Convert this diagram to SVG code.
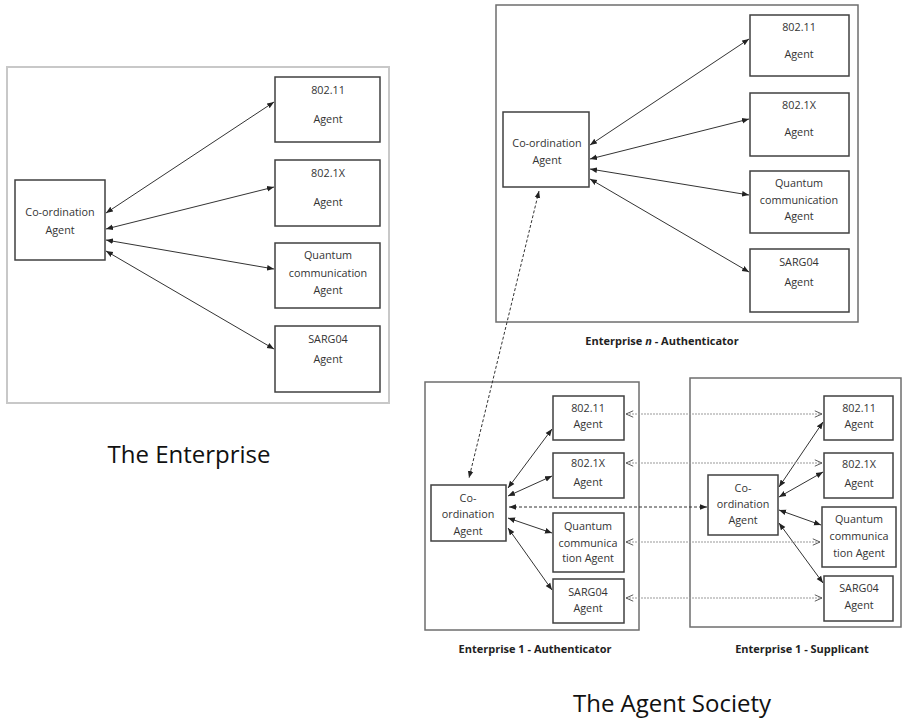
<svg xmlns="http://www.w3.org/2000/svg" width="903" height="721" viewBox="0 0 903 721">
<style>
.frame{fill:none;stroke:#6e6e6e;stroke-width:1.5}
.frame-light{fill:none;stroke:#c8c8c8;stroke-width:2}
.box{fill:#fff;stroke:#404040;stroke-width:1.5}
.lbl{font-family:"Open Sans","Liberation Sans",sans-serif;font-size:10.8px;fill:#333;text-anchor:middle}
.cap{font-family:"Open Sans","Liberation Sans",sans-serif;font-size:11px;font-weight:bold;fill:#222;text-anchor:middle}
.title{font-family:"Open Sans","Liberation Sans",sans-serif;font-size:24px;fill:#111;text-anchor:middle}
.solid{stroke:#333;stroke-width:1;fill:none;marker-start:url(#ah);marker-end:url(#ah)}
.dash{stroke:#333;stroke-width:1;stroke-dasharray:3,2;fill:none;marker-start:url(#ah);marker-end:url(#ah)}
.dot{stroke:#999;stroke-width:1;stroke-dasharray:2,1;fill:none;marker-start:url(#oh);marker-end:url(#oh)}
</style>
<defs>
<marker id="ah" viewBox="0 0 10 10" refX="10" refY="5" markerWidth="7" markerHeight="7" markerUnits="userSpaceOnUse" orient="auto-start-reverse">
<path d="M0,1 L10,5 L0,9 z" fill="#222"/>
</marker>
<marker id="oh" viewBox="0 0 10 10" refX="10" refY="5" markerWidth="8" markerHeight="8" markerUnits="userSpaceOnUse" orient="auto-start-reverse">
<path d="M1,1 L10,5 L1,9" fill="none" stroke="#555" stroke-width="1.2"/>
</marker>
</defs>

<g id="frames">
<rect class="frame-light" x="7" y="67" width="382" height="336"/>
<rect class="frame" x="496" y="5" width="362" height="317"/>
<rect class="frame" x="425" y="382" width="214" height="248"/>
<rect class="frame" x="690" y="378" width="211" height="249"/>
</g>

<g id="left-coord"><rect class="box" x="15" y="180" width="90" height="80"/>
<text class="lbl" x="60" y="216">Co-ordination</text><text class="lbl" x="60" y="234">Agent</text></g>
<g id="left-80211"><rect class="box" x="275" y="77" width="105" height="65"/>
<text class="lbl" x="328" y="94">802.11</text><text class="lbl" x="328" y="123">Agent</text></g>
<g id="left-8021x"><rect class="box" x="275" y="160" width="105" height="66"/>
<text class="lbl" x="328" y="177">802.1X</text><text class="lbl" x="328" y="206">Agent</text></g>
<g id="left-quantum"><rect class="box" x="275" y="243" width="105" height="65"/>
<text class="lbl" x="328" y="259">Quantum</text><text class="lbl" x="328" y="277">communication</text><text class="lbl" x="328" y="294">Agent</text></g>
<g id="left-sarg04"><rect class="box" x="275" y="326" width="105" height="66"/>
<text class="lbl" x="328" y="343">SARG04</text><text class="lbl" x="328" y="363">Agent</text></g>

<g id="n-coord"><rect class="box" x="503" y="112" width="86" height="75"/>
<text class="lbl" x="547" y="147">Co-ordination</text><text class="lbl" x="547" y="164">Agent</text></g>
<g id="n-80211"><rect class="box" x="750" y="15" width="99" height="61"/>
<text class="lbl" x="799" y="31">802.11</text><text class="lbl" x="799" y="58">Agent</text></g>
<g id="n-8021x"><rect class="box" x="750" y="93" width="99" height="63"/>
<text class="lbl" x="799" y="109">802.1X</text><text class="lbl" x="799" y="136">Agent</text></g>
<g id="n-quantum"><rect class="box" x="750" y="171" width="99" height="62"/>
<text class="lbl" x="799" y="187">Quantum</text><text class="lbl" x="799" y="204">communication</text><text class="lbl" x="799" y="220">Agent</text></g>
<g id="n-sarg04"><rect class="box" x="750" y="249" width="99" height="63"/>
<text class="lbl" x="799" y="266">SARG04</text><text class="lbl" x="799" y="286">Agent</text></g>

<g id="a-coord"><rect class="box" x="431" y="485" width="75" height="56"/>
<text class="lbl" x="468" y="502">Co-</text><text class="lbl" x="468" y="518">ordination</text><text class="lbl" x="468" y="535">Agent</text></g>
<g id="a-80211"><rect class="box" x="553" y="396" width="71" height="44"/>
<text class="lbl" x="588" y="412">802.11</text><text class="lbl" x="588" y="428">Agent</text></g>
<g id="a-8021x"><rect class="box" x="553" y="453" width="71" height="45"/>
<text class="lbl" x="588" y="467">802.1X</text><text class="lbl" x="588" y="486">Agent</text></g>
<g id="a-quantum"><rect class="box" x="553" y="513" width="71" height="59"/>
<text class="lbl" x="588" y="530">Quantum</text><text class="lbl" x="588" y="547">communica</text><text class="lbl" x="588" y="562">tion Agent</text></g>
<g id="a-sarg04"><rect class="box" x="553" y="579" width="71" height="44"/>
<text class="lbl" x="588" y="596">SARG04</text><text class="lbl" x="588" y="612">Agent</text></g>

<g id="s-coord"><rect class="box" x="708" y="475" width="70" height="60"/>
<text class="lbl" x="743" y="492">Co-</text><text class="lbl" x="743" y="508">ordination</text><text class="lbl" x="743" y="524">Agent</text></g>
<g id="s-80211"><rect class="box" x="824" y="396" width="69" height="44"/>
<text class="lbl" x="859" y="412">802.11</text><text class="lbl" x="859" y="428">Agent</text></g>
<g id="s-8021x"><rect class="box" x="824" y="453" width="69" height="45"/>
<text class="lbl" x="859" y="468">802.1X</text><text class="lbl" x="859" y="487">Agent</text></g>
<g id="s-quantum"><rect class="box" x="822" y="507" width="74" height="60"/>
<text class="lbl" x="859" y="523">Quantum</text><text class="lbl" x="859" y="540">communica</text><text class="lbl" x="859" y="557">tion Agent</text></g>
<g id="s-sarg04"><rect class="box" x="824" y="576" width="69" height="45"/>
<text class="lbl" x="859" y="592">SARG04</text><text class="lbl" x="859" y="609">Agent</text></g>

<g id="connectors">
<line class="solid" x1="106" y1="213" x2="274" y2="102"/>
<line class="solid" x1="106" y1="229" x2="274" y2="187"/>
<line class="solid" x1="106" y1="240" x2="274" y2="269"/>
<line class="solid" x1="106" y1="251" x2="274" y2="349"/>

<line class="solid" x1="590" y1="145" x2="749" y2="39"/>
<line class="solid" x1="590" y1="159" x2="749" y2="119"/>
<line class="solid" x1="590" y1="169" x2="749" y2="195"/>
<line class="solid" x1="590" y1="179" x2="749" y2="272"/>

<line class="solid" x1="508" y1="488" x2="552" y2="429"/>
<line class="solid" x1="508" y1="496" x2="552" y2="476"/>
<line class="solid" x1="508" y1="518" x2="552" y2="533"/>
<line class="solid" x1="508" y1="528" x2="552" y2="590"/>

<line class="solid" x1="779" y1="487" x2="823" y2="422"/>
<line class="solid" x1="779" y1="497" x2="823" y2="472"/>
<line class="solid" x1="779" y1="510" x2="821" y2="525"/>
<line class="solid" x1="779" y1="523" x2="823" y2="583"/>

<line class="dash" x1="539" y1="191" x2="469" y2="478"/>
<line class="dash" x1="509" y1="507" x2="707" y2="507"/>

<line class="dot" x1="626" y1="414" x2="822" y2="414"/>
<line class="dot" x1="626" y1="463" x2="822" y2="463"/>
<line class="dot" x1="626" y1="542" x2="820" y2="542"/>
<line class="dot" x1="626" y1="598" x2="822" y2="598"/>
</g>

<g id="captions">
<text class="cap" x="662" y="345">Enterprise <tspan font-style="italic">n</tspan> - Authenticator</text>
<text class="cap" x="535" y="653">Enterprise 1 - Authenticator</text>
<text class="cap" x="802" y="653">Enterprise 1 - Supplicant</text>
<text class="title" x="189" y="463">The Enterprise</text>
<text class="title" x="672" y="712">The Agent Society</text>
</g>
</svg>
